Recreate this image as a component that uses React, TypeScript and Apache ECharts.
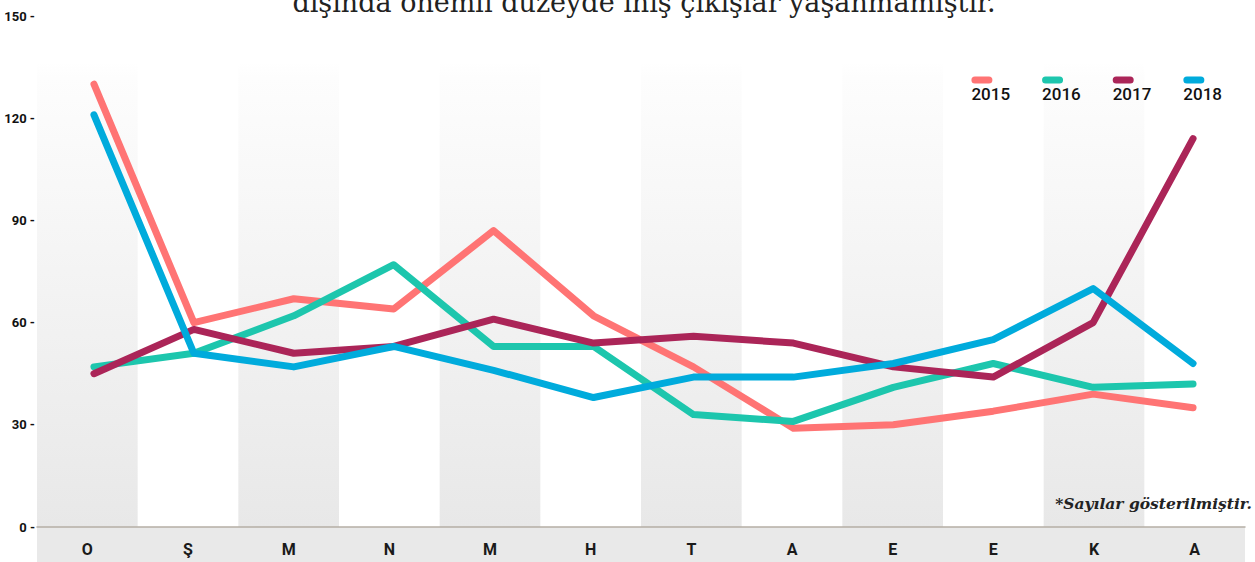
import React, { useEffect, useRef } from "react";
import * as echarts from "echarts";

const months = ["O", "Ş", "M", "N", "M", "H", "T", "A", "E", "E", "K", "A"];
const years = ["2015", "2016", "2017", "2018"];
const s2015 = [130, 60, 67, 64, 87, 62, 47, 29, 30, 34, 39, 35];
const s2016 = [47, 51, 62, 77, 53, 53, 33, 31, 41, 48, 41, 42];
const s2017 = [45, 58, 51, 53, 61, 54, 56, 54, 47, 44, 60, 114];
const s2018 = [121, 51, 47, 53, 46, 38, 44, 44, 48, 55, 70, 48];
const seriesValues = [s2015, s2016, s2017, s2018];
const colors = ["#ff7474", "#1dc6ad", "#ab2558", "#00abdc"];
const yTicks = { min: 0, max: 150, interval: 30 };

const SANS = "Roboto, 'Noto Sans', sans-serif";

export default function App() {
  const ref = useRef<HTMLDivElement>(null);
  useEffect(() => {
    if (!ref.current) return;
    const chart = echarts.init(ref.current, null, { renderer: "svg" });
    const rich: any = {
      t: { fontSize: 17, lineHeight: 21, fontFamily: SANS, color: "#111", fontWeight: 500, align: "left" },
    };
    years.forEach((y, i) => {
      rich["m" + y] = { width: 21, height: 7, borderRadius: 4, backgroundColor: colors[i], align: "left" };
    });
    const bandGradient = {
      type: "linear", x: 0, y: 0, x2: 0, y2: 1,
      colorStops: [
        { offset: 0, color: "#ffffff" },
        { offset: 0.09, color: "#ffffff" },
        { offset: 0.12, color: "#fdfdfd" },
        { offset: 1, color: "#e8e8e8" },
      ],
    };
    chart.setOption({
      animation: false,
      backgroundColor: "#ffffff",
      graphic: [
        {
          type: "rect",
          z: -10,
          shape: { x: 37, y: 527, width: 1208, height: 35 },
          style: { fill: "#e9e9e9" },
          silent: true,
        },
        {
          type: "text",
          x: 644,
          y: -11.5,
          z: 100,
          style: {
            text: "dışında önemli düzeyde iniş çıkışlar yaşanmamıştır.",
            fontFamily: "'DejaVu Serif', serif",
            fontSize: 27,
            fill: "#222",
            align: "center",
            verticalAlign: "top",
          },
        },
        {
          type: "text",
          x: 1252,
          y: 503,
          z: 100,
          style: {
            text: "*Sayılar gösterilmiştir.",
            fontFamily: "'DejaVu Serif', serif",
            fontSize: 15.5,
            fontStyle: "italic",
            fontWeight: "bold",
            fill: "#222",
            align: "right",
            verticalAlign: "middle",
          },
        },
      ],
      legend: {
        data: years,
        right: 28,
        top: 69,
        width: 400,
        itemWidth: 0,
        itemHeight: 0,
        itemGap: 31,
        selectedMode: false,
        formatter: (name: string) => `{m${name}|}\n{t|${name}}`,
        textStyle: { rich, fontFamily: SANS, padding: [0, 0, 0, -5] },
      },
      grid: [
        { left: 37, right: 10, top: 16, bottom: 35 },
        { left: 44, right: 12, top: 16, bottom: 35 },
      ],
      xAxis: [
        {
          type: "category",
          data: months,
          gridIndex: 0,
          boundaryGap: true,
          axisLine: { lineStyle: { color: "#b5aea5", width: 1.5 } },
          axisTick: { length: 35, lineStyle: { color: "#c8c2b8", width: 1.5 } },
          axisLabel: { fontFamily: SANS, fontWeight: "bold", fontSize: 16, color: "#1a1a1a", margin: 14, interval: 0 },
          splitArea: { show: true, interval: 0, areaStyle: { color: [bandGradient, "rgba(255,255,255,0)"] } },
        },
        {
          type: "category",
          data: months,
          gridIndex: 1,
          show: false,
        },
      ],
      yAxis: [
        {
          type: "value",
          gridIndex: 0,
          min: yTicks.min,
          max: yTicks.max,
          interval: yTicks.interval,
          axisLine: { show: false },
          axisTick: { show: false },
          splitLine: { show: false },
          axisLabel: {
            formatter: "{value} -",
            fontFamily: SANS,
            fontWeight: "bold",
            fontSize: 13,
            color: "#111",
            margin: 2,
          },
        },
        {
          type: "value",
          gridIndex: 1,
          min: yTicks.min,
          max: yTicks.max,
          interval: yTicks.interval,
          show: false,
        },
      ],
      series: years.map((y, i) => ({
        name: y,
        type: "line",
        xAxisIndex: 1,
        yAxisIndex: 1,
        data: seriesValues[i],
        symbol: "none",
        color: colors[i],
        lineStyle: { width: 7, color: colors[i], cap: "round", join: "round" },
        z: 3,
      })),
    });
    return () => chart.dispose();
  }, []);
  return <div ref={ref} style={{ width: 1255, height: 562, position: "absolute", left: 0, top: 0 }} />;
}
